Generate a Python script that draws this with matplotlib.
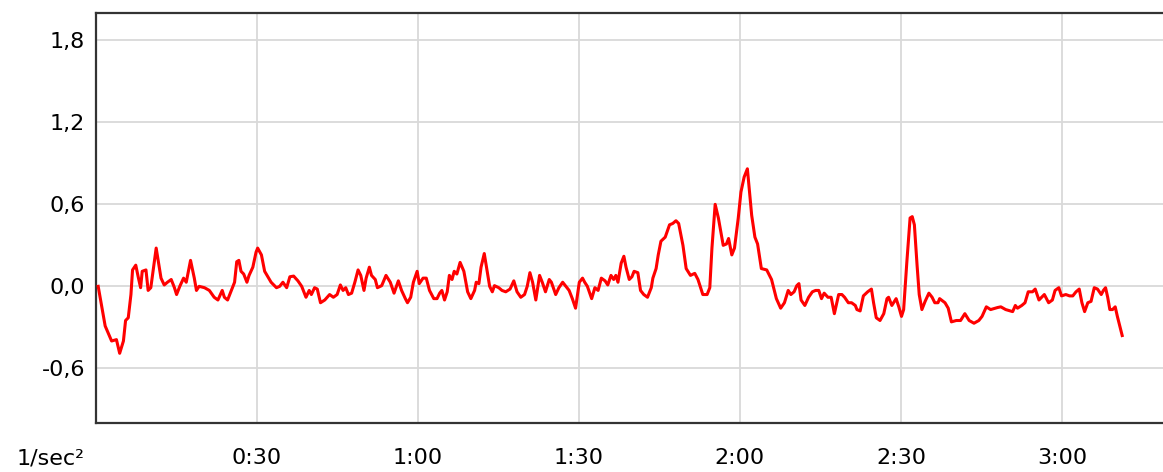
import matplotlib
matplotlib.use("Agg")
import matplotlib.pyplot as plt
from matplotlib.ticker import FixedLocator, FuncFormatter

# time in seconds, value in 1/sec^2
times = [
    0.5, 1.8, 3.0, 3.9, 4.5, 5.2, 5.6, 6.1, 6.6, 6.9, 7.5, 8.0, 8.4, 8.7, 9.4, 9.8,
    10.3, 11.3, 11.7, 12.2, 12.8, 13.4, 14.1, 14.7, 15.1, 15.7, 16.4, 16.9, 17.7,
    18.4, 18.8, 19.3, 20.3, 21.2, 22.1, 22.8, 23.6, 24.0, 24.6, 25.3, 25.9, 26.3,
    26.7, 27.1, 27.6, 28.2, 28.6, 29.3, 29.9, 30.2, 30.9, 31.5, 32.7, 33.7, 34.3,
    34.9, 35.6, 36.2, 36.9, 37.7, 38.4, 39.2, 39.8, 40.2, 40.8, 41.3, 41.9, 42.7,
    43.6, 44.3, 45.0, 45.6, 46.1, 46.6, 47.1, 47.7, 48.3, 48.9, 49.4, 50.0, 50.4,
    51.0, 51.4, 52.1, 52.5, 53.3, 54.1, 54.9, 55.6, 56.4, 57.0, 57.7, 58.1, 58.7,
    59.2, 59.9, 60.3, 61.0, 61.6, 62.2, 63.0, 63.6, 64.1, 64.5, 65.0, 65.5, 65.9,
    66.4, 66.8, 67.3, 67.9, 68.6, 69.3, 69.9, 70.6, 70.9, 71.4, 71.8, 72.4, 72.9,
    73.4, 73.9, 74.3, 75.1, 75.7, 76.4, 77.2, 77.9, 78.5, 79.2, 79.9, 80.4, 80.9,
    81.4, 82.0, 82.7, 83.2, 83.8, 84.5, 84.9, 85.7, 86.3, 87.0, 87.6, 88.2, 88.8,
    89.4, 90.1, 90.7, 91.1, 91.6, 92.4, 93.0, 93.6, 94.2, 94.9, 95.4, 96.0, 96.5,
    96.9, 97.3, 97.9, 98.4, 98.8, 99.4, 99.9, 100.3, 101.0, 101.5, 102.1, 102.8,
    103.5, 103.8, 104.4, 104.8, 105.3, 106.1, 106.9, 107.5, 108.1, 108.6, 109.4,
    110.0, 110.8, 111.6, 112.2, 113.1, 113.9, 114.4, 114.8, 115.4, 116.0, 116.9,
    117.5, 117.9, 118.5, 119.0, 119.7, 120.2, 120.8, 121.4, 122.2, 122.8, 123.3,
    124.0, 125.0, 125.9, 126.8, 127.6, 128.3, 129.0, 129.5, 130.1, 130.6, 131.0,
    131.4, 132.1, 132.8, 133.5, 134.1, 134.7, 135.2, 135.7, 136.4, 137.0, 137.6,
    138.4, 139.0, 139.5, 140.2, 140.8, 141.5, 141.8, 142.4, 143.0, 143.8, 144.5,
    144.9, 145.4, 146.1, 146.8, 147.4, 147.7, 148.3, 149.1, 149.6, 150.1, 150.5,
    151.1, 151.7, 152.1, 152.5, 153.0, 153.4, 153.9, 154.5, 155.2, 155.8, 156.3,
    156.9, 157.2, 158.2, 158.8, 159.4, 160.3, 161.1, 161.9, 162.7, 163.6, 164.5,
    165.1, 165.9, 166.7, 168.0, 168.6, 169.5, 170.8, 171.3, 171.7, 172.5, 173.1,
    173.7, 174.5, 175.0, 175.7, 176.7, 177.5, 178.2, 178.7, 179.4, 179.9, 180.7,
    181.4, 182.0, 182.6, 183.2, 183.7, 184.2, 184.8, 185.4, 186.0, 186.6, 187.3,
    187.7, 188.1, 188.5, 188.9, 189.4, 189.9, 190.3, 191.2,
]
values = [
    0.0, -0.29, -0.40, -0.39, -0.49, -0.40, -0.25, -0.23, -0.06, 0.12, 0.155, 0.06,
    -0.01, 0.11, 0.12, -0.03, -0.01, 0.28, 0.18, 0.06, 0.01, 0.03, 0.05, -0.01,
    -0.06, 0.0, 0.06, 0.03, 0.19, 0.06, -0.03, 0.0, -0.01, -0.03, -0.08, -0.10,
    -0.03, -0.08, -0.10, -0.03, 0.03, 0.18, 0.19, 0.11, 0.09, 0.03, 0.08, 0.14,
    0.25, 0.28, 0.23, 0.11, 0.03, -0.01, 0.0, 0.03, -0.01, 0.07, 0.075, 0.04, 0.0,
    -0.08, -0.03, -0.06, -0.01, -0.02, -0.12, -0.10, -0.06, -0.08, -0.06, 0.01,
    -0.03, -0.01, -0.06, -0.05, 0.03, 0.12, 0.08, -0.03, 0.06, 0.14, 0.08, 0.05,
    -0.01, 0.005, 0.08, 0.03, -0.05, 0.04, -0.03, -0.09, -0.12, -0.08, 0.03, 0.11,
    0.02, 0.06, 0.06, -0.03, -0.09, -0.09, -0.05, -0.03, -0.10, -0.04, 0.08, 0.05,
    0.11, 0.09, 0.175, 0.11, -0.04, -0.09, -0.03, 0.03, 0.02, 0.14, 0.24, 0.12,
    0.0, -0.04, 0.005, -0.01, -0.03, -0.04, -0.02, 0.04, -0.04, -0.08, -0.06, 0.0,
    0.10, 0.03, -0.10, 0.08, 0.03, -0.04, 0.05, 0.03, -0.06, -0.01, 0.03, 0.0,
    -0.03, -0.09, -0.16, 0.03, 0.06, 0.03, 0.0, -0.09, -0.01, -0.03, 0.06, 0.04,
    0.01, 0.08, 0.05, 0.08, 0.03, 0.17, 0.22, 0.14, 0.05, 0.07, 0.11, 0.10, -0.03,
    -0.06, -0.08, -0.01, 0.06, 0.13, 0.23, 0.33, 0.36, 0.45, 0.46, 0.48, 0.46,
    0.30, 0.13, 0.08, 0.095, 0.05, -0.06, -0.06, -0.01, 0.28, 0.60, 0.50, 0.30,
    0.31, 0.35, 0.23, 0.28, 0.50, 0.69, 0.80, 0.86, 0.52, 0.36, 0.31, 0.13, 0.12,
    0.05, -0.09, -0.16, -0.12, -0.03, -0.06, -0.04, 0.005, 0.02, -0.10, -0.14,
    -0.08, -0.04, -0.03, -0.03, -0.09, -0.05, -0.08, -0.08, -0.20, -0.06, -0.06,
    -0.08, -0.12, -0.12, -0.14, -0.17, -0.18, -0.07, -0.04, -0.02, -0.12, -0.23,
    -0.25, -0.20, -0.09, -0.08, -0.14, -0.09, -0.15, -0.22, -0.17, 0.18, 0.50,
    0.51, 0.45, 0.155, -0.06, -0.17, -0.11, -0.05, -0.08, -0.12, -0.12, -0.09,
    -0.12, -0.16, -0.26, -0.25, -0.25, -0.20, -0.25, -0.27, -0.25, -0.22, -0.15,
    -0.17, -0.155, -0.15, -0.17, -0.185, -0.14, -0.16, -0.14, -0.12, -0.04, -0.04,
    -0.02, -0.10, -0.06, -0.12, -0.10, -0.03, -0.01, -0.07, -0.06, -0.07, -0.07,
    -0.04, -0.02, -0.12, -0.185, -0.12, -0.11, -0.01, -0.02, -0.06, -0.03, -0.01,
    -0.08, -0.17, -0.17, -0.15, -0.22, -0.36,
]

x_ticks = [30, 60, 90, 120, 150, 180]
y_ticks = [-0.6, 0.0, 0.6, 1.2, 1.8]


def mmss(sec, pos=None):
    sec = int(round(sec))
    return f"{sec // 60}:{sec % 60:02d}"


def comma(v, pos=None):
    return f"{v:.1f}".replace(".", ",")


fig = plt.figure(figsize=(11.63, 4.72), dpi=100)
ax = fig.add_axes([95.5 / 1163, 49 / 472, 1 - 95.5 / 1163, 410 / 472])

ax.plot(times, values, color="#ff0000", lw=2.2, solid_joinstyle="round", zorder=3)

ax.set_xlim(0, 198.8)
ax.set_ylim(-1.0, 2.0)
ax.xaxis.set_major_locator(FixedLocator(x_ticks))
ax.yaxis.set_major_locator(FixedLocator(y_ticks))
ax.xaxis.set_major_formatter(FuncFormatter(mmss))
ax.yaxis.set_major_formatter(FuncFormatter(comma))

ax.grid(True, color="#d9d9d9", lw=1.3)
ax.set_axisbelow(True)
ax.tick_params(length=0, labelsize=16, colors="black")
ax.tick_params(axis="y", pad=7.5)
ax.tick_params(axis="x", pad=18)

for side in ["left", "top", "bottom"]:
    ax.spines[side].set_color("#333333")
    ax.spines[side].set_linewidth(1.6)
ax.spines["right"].set_visible(False)

fig.text(85 / 1163, 1 - 458 / 472, "1/sec²", fontsize=16, ha="right", va="center")

fig.savefig("out.png", dpi=100)
